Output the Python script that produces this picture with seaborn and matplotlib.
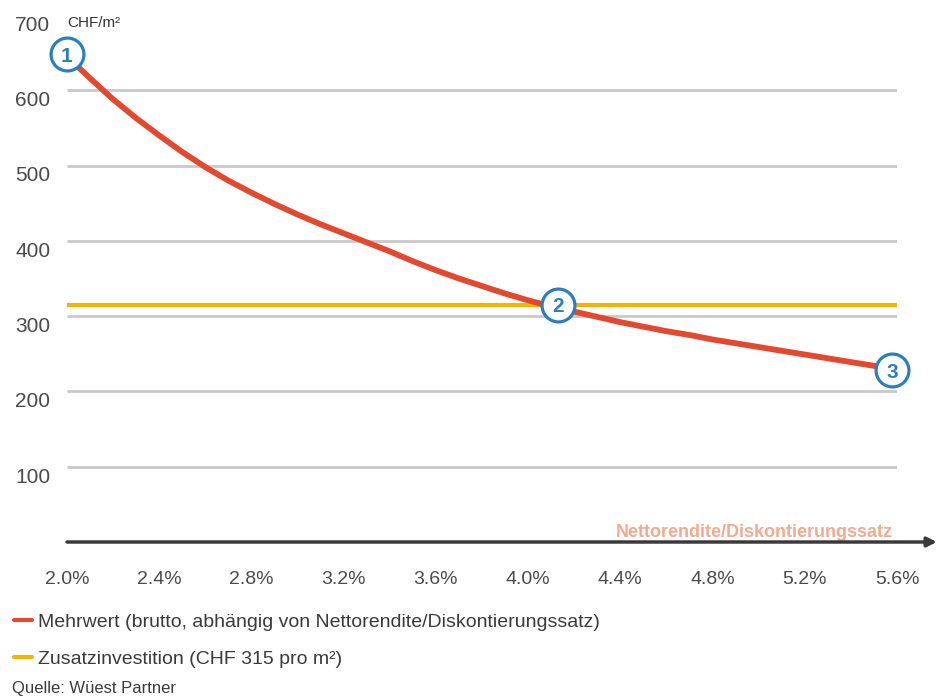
import matplotlib
matplotlib.use("Agg")
import matplotlib.pyplot as plt
import matplotlib.transforms as mtransforms
from matplotlib import font_manager
from matplotlib.lines import Line2D
import seaborn as sns
import pandas as pd

# ---- data ----
rate = [2.0, 2.1, 2.2, 2.3, 2.4, 2.5, 2.6, 2.7, 2.8, 2.9, 3.0, 3.1, 3.2, 3.3, 3.4, 3.5,
        3.6, 3.7, 3.8, 3.9, 4.0, 4.1, 4.2, 4.3, 4.4, 4.5, 4.6, 4.7, 4.8, 4.9, 5.0, 5.1,
        5.2, 5.3, 5.4, 5.5, 5.58]
mehrwert = [645, 616, 588, 563, 540, 518, 498, 480, 464, 449, 435, 422, 410, 398, 386, 373,
            361, 350, 340, 330, 321, 313, 306, 299, 292, 286, 280, 275, 269, 264, 259, 254,
            249, 244, 239, 234, 230]
zusatz_value = 315
grid_values = [100, 200, 300, 400, 500, 600]
y_ticks = [100, 200, 300, 400, 500, 600, 700]
x_ticks = [2.0, 2.4, 2.8, 3.2, 3.6, 4.0, 4.4, 4.8, 5.2, 5.6]
x_tick_labels = ["2.0%", "2.4%", "2.8%", "3.2%", "3.6%", "4.0%", "4.4%", "4.8%", "5.2%", "5.6%"]
marker_x = [2.0, 4.13, 5.58]
marker_y = [648, 315, 228]
marker_labels = ["1", "2", "3"]
label_red = "Mehrwert (brutto, abhängig von Nettorendite/Diskontierungssatz)"
label_yellow = "Zusatzinvestition (CHF 315 pro m²)"

df = pd.DataFrame({"rate": rate, "mehrwert": mehrwert})
df_z = pd.DataFrame({"rate": [2.0, 5.6], "value": [zusatz_value, zusatz_value]})

sns.set_theme(style="white")
names = {f.name for f in font_manager.fontManager.ttflist}
narrow = "Liberation Sans Narrow" if "Liberation Sans Narrow" in names else "Liberation Sans"
plt.rcParams["font.family"] = ["Liberation Sans", "DejaVu Sans"]

RED = "#e2492f"
YEL = "#f6b400"
BLUE = "#2b7fc0"
GRID = "#c9c9c9"
AX = "#3a3a3a"
TXT = "#4a4a4a"

fig = plt.figure(figsize=(9.39, 6.97), dpi=100)
fig.patch.set_facecolor("white")
ax = fig.add_axes([67 / 939, 1 - 542 / 697, 830 / 939, 527 / 697])
ax.set_xlim(2.0, 5.6)
ax.set_ylim(0, 700)

ax.hlines(grid_values, 2.0, 5.6, color=GRID, lw=2, zorder=1)
sns.lineplot(data=df_z, x="rate", y="value", ax=ax, color=YEL, lw=3, zorder=2)
sns.lineplot(data=df, x="rate", y="mehrwert", ax=ax, color=RED, lw=4.2, zorder=3)

for s in ax.spines.values():
    s.set_visible(False)
ax.annotate("", xy=(1.048, 0), xytext=(0, 0), xycoords="axes fraction",
            arrowprops=dict(arrowstyle="-|>", color=AX, lw=2.5, mutation_scale=14,
                            shrinkA=0, shrinkB=0), annotation_clip=False, zorder=4)

ax.set_xticks(x_ticks)
ax.set_xticklabels(x_tick_labels)
ax.tick_params(axis="x", length=7, width=2, color=AX, direction="out", pad=14,
               labelsize=14, labelcolor=TXT)
ax.set_yticks(y_ticks)
ax.set_yticklabels([str(v) for v in y_ticks])
ax.tick_params(axis="y", length=0, pad=12, labelsize=15, labelcolor=TXT)
offset = mtransforms.ScaledTranslation(0, -6 / 72, fig.dpi_scale_trans)
for lab in ax.get_yticklabels():
    lab.set_transform(lab.get_transform() + offset)
ax.set_xlabel("")
ax.set_ylabel("")
ax.grid(False)

# unit label
ax.text(2.0, 700, "CHF/m²", fontsize=11, color="#333333", family=[narrow, "DejaVu Sans"],
        va="center", ha="left", clip_on=False,
        transform=mtransforms.offset_copy(ax.transData, fig=fig, y=-6, units="points"))
# axis title
ax.text(5.58, 0, "Nettorendite/Diskontierungssatz", fontsize=13, color="#f5a98f",
        fontweight="bold", family=[narrow, "DejaVu Sans"], ha="right", va="bottom",
        transform=mtransforms.offset_copy(ax.transData, fig=fig, y=1, units="points"))

# numbered markers
ax.scatter(marker_x, marker_y, s=560, facecolor="white", edgecolor=BLUE, linewidth=2.3,
           zorder=5, clip_on=False)
for mx, my, ml in zip(marker_x, marker_y, marker_labels):
    ax.text(mx, my, ml, color=BLUE, fontsize=15, fontweight="bold", ha="center",
            va="center_baseline", zorder=6, family=[narrow, "DejaVu Sans"])

handles = [Line2D([0], [0], color=RED, lw=3), Line2D([0], [0], color=YEL, lw=3)]
fig.legend(handles, [label_red, label_yellow], loc="upper left",
           bbox_to_anchor=(14 / 939, 1 - 613 / 697), frameon=False, handlelength=0.95,
           handletextpad=0.3, labelspacing=1.0, borderaxespad=0, borderpad=0,
           prop={"family": [narrow, "DejaVu Sans"], "size": 14}, labelcolor="#3a3a3a")
fig.text(12 / 939, 1 - 688 / 697, "Quelle: Wüest Partner", fontsize=12, color="#3a3a3a",
         family=[narrow, "DejaVu Sans"], va="center", ha="left")

fig.savefig("out.png", dpi=100, facecolor="white")
